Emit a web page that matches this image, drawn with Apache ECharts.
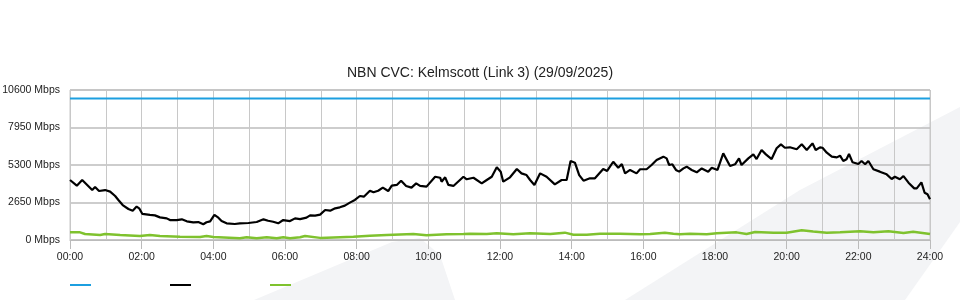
<!DOCTYPE html>
<html>
<head>
<meta charset="utf-8">
<script src="https://cdn.jsdelivr.net/npm/echarts@6/dist/echarts.min.js"></script>
<style>
html,body{margin:0;padding:0;background:#fff;}
#chart{width:960px;height:300px;}
</style>
</head>
<body>
<div id="chart"></div>
<script>
const titleText = 'NBN CVC: Kelmscott (Link 3) (29/09/2025)';
const yTicks = [0, 2650, 5300, 7950, 10600];
const xTickHours = [0, 2, 4, 6, 8, 10, 12, 14, 16, 18, 20, 22, 24];

const capacityHours = [0, 24];
const capacityValues = [10000, 10000];

const blackHours = [0,0.19,0.34,0.48,0.62,0.70,0.81,0.98,1.12,1.26,
1.35,1.47,1.63,1.75,1.86,1.93,2.02,2.23,2.37,2.51,
2.70,2.79,2.98,3.12,3.26,3.44,3.58,3.72,3.81,3.91,
4.03,4.14,4.23,4.37,4.60,4.74,4.98,5.21,5.40,5.53,
5.67,5.81,5.95,6.14,6.28,6.42,6.60,6.70,6.84,6.98,
7.12,7.26,7.40,7.53,7.67,7.81,7.95,8.09,8.20,8.37,
8.47,8.60,8.73,8.88,8.98,9.12,9.24,9.38,9.53,9.66,
9.77,9.95,10.19,10.33,10.37,10.47,10.56,10.70,10.98,11.07,
11.26,11.49,11.63,11.77,11.91,12.02,12.09,12.28,12.47,12.60,
12.74,12.84,12.96,13.12,13.30,13.53,13.72,13.86,13.97,14.09,
14.21,14.33,14.51,14.65,14.88,14.99,15.16,15.30,15.40,15.49,
15.63,15.81,15.91,16.09,16.23,16.37,16.56,16.65,16.72,16.81,
16.91,17.00,17.12,17.21,17.35,17.49,17.63,17.81,17.91,18.07,
18.23,18.42,18.56,18.67,18.74,18.93,19.07,19.16,19.30,19.42,
19.58,19.72,19.84,19.95,20.09,20.28,20.42,20.56,20.72,20.81,
20.93,21.00,21.12,21.26,21.40,21.49,21.58,21.67,21.74,21.84,
22.00,22.09,22.19,22.28,22.42,22.60,22.79,22.93,23.02,23.16,
23.26,23.40,23.56,23.63,23.76,23.85,23.93,24.00];
const blackValues = [4240,3840,4240,3890,3530,3740,3460,3530,3420,3110,
2830,2470,2190,2070,2360,2240,1840,1770,1740,1600,
1530,1410,1410,1460,1320,1250,1270,1110,1250,1320,
1770,1580,1340,1180,1130,1180,1200,1270,1460,1360,
1290,1180,1410,1340,1530,1480,1580,1740,1720,1790,
2120,2070,2240,2310,2430,2640,2830,3110,3060,3480,
3370,3480,3700,3460,3840,3890,4190,3820,3700,4000,
3820,3770,4470,4400,4120,4430,3890,3820,4470,4290,
4400,4000,4240,4470,5140,4830,4120,4430,5020,4710,
4590,4240,3890,4710,4470,3930,4240,4240,5580,5460,
4590,4190,4360,4360,5020,4880,5530,5110,5370,4710,
4950,4710,5000,5000,5300,5650,5890,5770,5300,5350,
4950,4830,5060,5180,4950,4780,5060,4830,5110,4950,
6120,5230,5350,5770,5300,5770,6050,5720,6360,6050,
5720,6480,6760,6520,6550,6410,6760,6360,6830,6360,
6550,6520,6170,5890,5840,5960,5580,5700,6080,5490,
5370,5580,5350,5580,5000,4830,4640,4310,4470,4290,
4520,4050,3650,3650,4070,3340,3230,2880];

const greenHours = [0,0.28,0.42,0.84,0.98,1.40,1.95,2.23,2.51,3.07,
3.63,3.81,4.00,4.74,4.93,5.21,5.49,5.77,5.95,6.14,
6.42,6.56,6.98,7.91,8.37,8.84,9.58,9.95,10.51,10.98,
11.16,11.63,11.91,12.37,12.84,13.40,13.81,14.05,14.42,14.79,
15.35,15.91,16.19,16.60,16.84,17.02,17.30,17.77,18.05,18.60,
18.88,19.12,19.63,20.00,20.42,20.74,21.12,21.49,22.05,22.42,
22.84,23.26,23.53,24.00];
const greenValues = [540,540,420,350,420,350,280,350,280,235,
210,280,210,120,190,120,190,120,190,120,
190,280,150,235,305,350,420,330,400,420,
440,420,470,400,470,420,520,375,375,440,
440,400,420,520,440,400,440,400,470,540,
420,560,520,520,685,600,520,540,620,540,
620,500,580,420];

function pairs(xs, ys) { return xs.map((x, i) => [x, ys[i]]); }
function hourLabel(v) { return String(Math.round(v)).padStart(2, '0') + ':00'; }

const chart = echarts.init(document.getElementById('chart'), null, {renderer: 'canvas'});
const FONT = 'Liberation Sans, Arial, sans-serif';
const wm = '#f3f4f6';

chart.setOption({
  animation: false,
  backgroundColor: '#ffffff',
  textStyle: {fontFamily: FONT},
  title: {
    text: titleText, left: 'center', top: 61,
    textStyle: {fontSize: 14, fontWeight: 'normal', color: '#222', fontFamily: FONT}
  },
  graphic: [
    {type: 'polygon', z: -10, silent: true,
     shape: {points: [[254,300],[392,242],[420,238],[440,255],[455,300]]},
     style: {fill: wm}},
    {type: 'polygon', z: -10, silent: true,
     shape: {points: [[625,300],[800,190],[960,107],[960,222],[905,300]]},
     style: {fill: wm}}
  ],
  legend: {
    left: 65, top: 279, itemWidth: 21, itemHeight: 2, itemGap: 79,
    icon: 'rect', formatter: () => '', selectedMode: false,
    data: ['Capacity', 'Traffic', 'Other']
  },
  grid: {left: 70, right: 30, top: 90, bottom: 60, show: true, borderColor: '#c8c8c8', borderWidth: 1,
         backgroundColor: 'transparent', outerBoundsMode: 'none', containLabel: false},
  xAxis: {
    type: 'value', min: 0, max: 24, interval: 2,
    axisLine: {show: true, lineStyle: {color: '#bbb'}},
    axisTick: {show: true, length: 9, lineStyle: {color: '#bbb'}},
    axisLabel: {formatter: v => xTickHours.includes(v) ? hourLabel(v) : '', fontSize: 10.5, color: '#222', margin: 12, fontFamily: FONT},
    splitLine: {show: true, lineStyle: {color: '#c8c8c8', width: 1}},
    minorTick: {show: false, splitNumber: 2},
    minorSplitLine: {show: true, lineStyle: {color: '#c8c8c8', width: 1}}
  },
  yAxis: {
    type: 'value', min: 0, max: 10600, interval: 2650,
    axisLine: {show: false}, axisTick: {show: false},
    axisLabel: {formatter: v => yTicks.includes(v) ? v + ' Mbps' : '', fontSize: 10.5, color: '#222', margin: 10, fontFamily: FONT},
    splitLine: {show: true, lineStyle: {color: '#bdbdbd', width: 1.5}}
  },
  series: [
    {name: 'Capacity', type: 'line', data: pairs(capacityHours, capacityValues), showSymbol: false,
     lineStyle: {color: '#1c9fe0', width: 2}, itemStyle: {color: '#1c9fe0'}, z: 3},
    {name: 'Traffic', type: 'line', data: pairs(blackHours, blackValues), showSymbol: false,
     lineStyle: {color: '#000', width: 2.2}, itemStyle: {color: '#000'}, z: 4},
    {name: 'Other', type: 'line', data: pairs(greenHours, greenValues), showSymbol: false,
     lineStyle: {color: '#7fc22e', width: 2.5}, itemStyle: {color: '#7fc22e'}, z: 3}
  ]
});
</script>
</body>
</html>
